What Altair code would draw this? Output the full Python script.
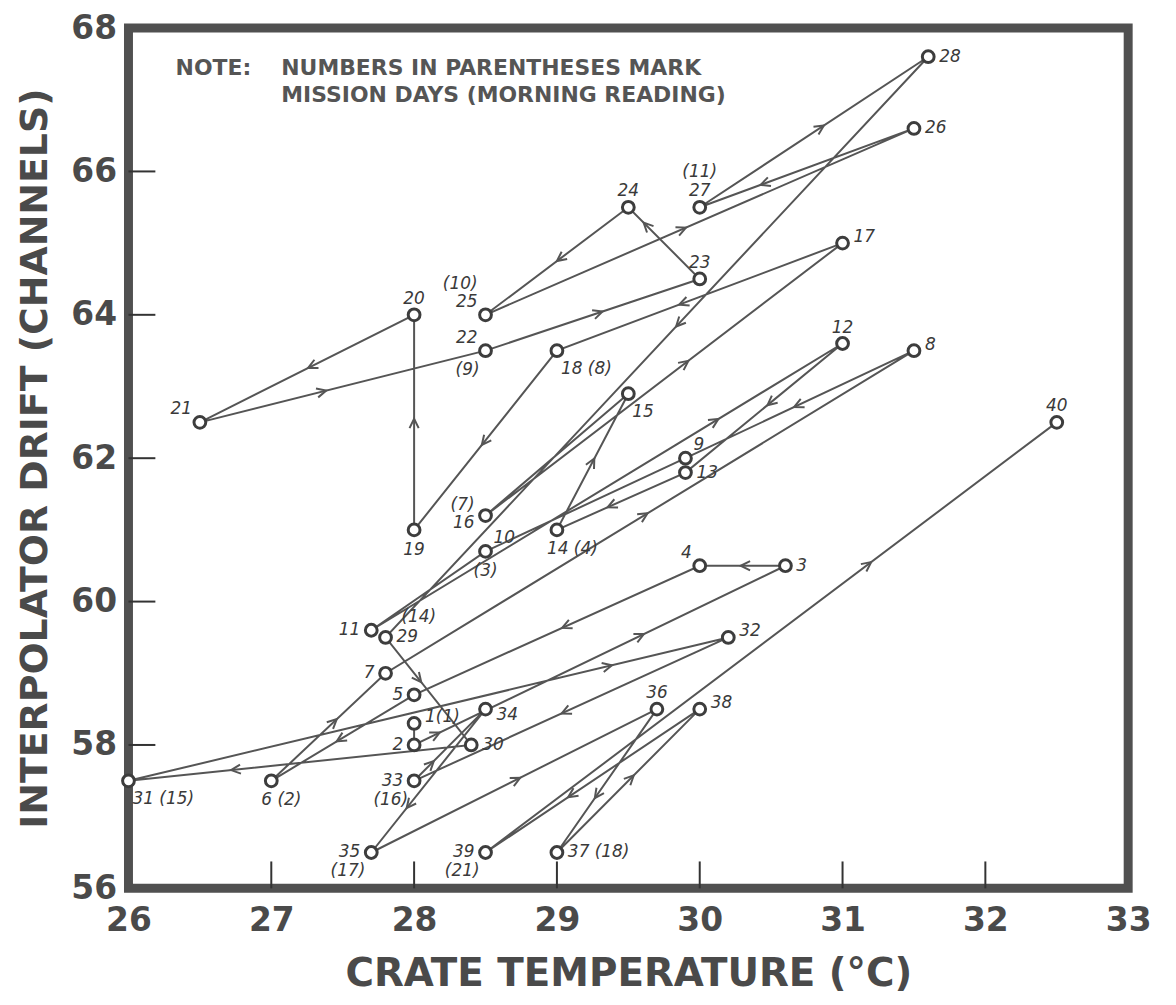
import math
import pandas as pd
import altair as alt

# ---------------- data ----------------
point_num = list(range(1, 41))
temperature = [28.0, 28.0, 30.6, 30.0, 28.0, 27.0, 27.8, 31.5, 29.9, 28.5,
               27.7, 31.0, 29.9, 29.0, 29.5, 28.5, 31.0, 29.0, 28.0, 28.0,
               26.5, 28.5, 30.0, 29.5, 28.5, 31.5, 30.0, 31.6, 27.8, 28.4,
               26.0, 30.2, 28.0, 28.5, 27.7, 29.7, 29.0, 30.0, 28.5, 32.5]
drift = [58.3, 58.0, 60.5, 60.5, 58.7, 57.5, 59.0, 63.5, 62.0, 60.7,
         59.6, 63.6, 61.8, 61.0, 62.9, 61.2, 65.0, 63.5, 61.0, 64.0,
         62.5, 63.5, 64.5, 65.5, 64.0, 66.6, 65.5, 67.6, 59.5, 58.0,
         57.5, 59.5, 57.5, 58.5, 56.5, 58.5, 56.5, 58.5, 56.5, 62.5]
mission_day = [1, None, None, None, None, 2, None, None, None, 3,
               None, None, None, 4, None, 7, None, 8, None, None,
               None, 9, None, None, 10, None, 11, None, 14, None,
               15, None, 16, None, 17, None, 18, None, 21, None]

# label placement codes (side of the point)
num_side = ["EN", "W", "E", "NW", "W", "SSE", "W", "EN", "NE", "NE",
            "W", "N", "E", "SSE", "SE", "WS", "EN", "SE", "S", "N",
            "NW", "NW", "N", "N", "NW", "E", "N", "E", "E", "E",
            "SE", "EN", "W", "ES", "W", "N", "E", "EN", "W", "N"]
day_side = ["inline", "", "", "", "", "inline", "", "", "", "S",
            "", "", "", "inline", "", "WN", "", "inline", "", "",
            "", "SW", "", "", "NNW", "", "NN", "", "NEE", "",
            "inline", "", "SW", "", "SW", "", "inline", "", "SW", ""]

# arrowheads: segment start point and fraction along the segment
arrow_from = [2, 2, 3, 4, 5, 6, 7, 8, 11, 12, 13, 14, 16, 17, 18, 19, 20, 21,
              22, 23, 24, 25, 26, 27, 28, 29, 30, 31, 32, 33, 34, 35, 36, 37,
              38, 39]
arrow_frac = [0.06, 0.61, 0.48, 0.47, 0.52, 0.55, 0.49, 0.51, 0.73, 0.46, 0.58,
              0.50, 0.56, 0.56, 0.51, 0.50, 0.48, 0.43, 0.53, 0.75, 0.48, 0.46,
              0.70, 0.53, 0.46, 0.39, 0.69, 0.80, 0.52, 0.24, 0.67, 0.51, 0.60,
              0.52, 0.60, 0.67]

x_ticks = [26, 27, 28, 29, 30, 31, 32, 33]
y_ticks = [56, 58, 60, 62, 64, 66, 68]
inner_x_ticks = [27, 28, 29, 30, 31, 32]
inner_y_ticks = [58, 60, 62, 64, 66]

x_title = "CRATE TEMPERATURE (°C)"
y_title = "INTERPOLATOR DRIFT (CHANNELS)"
note_line1a = "NOTE:"
note_line1b = "NUMBERS IN PARENTHESES MARK"
note_line2 = "MISSION DAYS (MORNING READING)"

# ---------------- layout ----------------
W, H = 1004, 864
X0, X1, Y0, Y1 = 26, 33, 56, 68
PX_X = W / (X1 - X0)
PX_Y = H / (Y1 - Y0)
INK = "#4a4a4a"
LINE = "#555555"

xs = alt.Scale(domain=[X0, X1], nice=False, zero=False)
ys = alt.Scale(domain=[Y0, Y1], nice=False, zero=False)

x_axis = alt.Axis(values=x_ticks, format="d", grid=False, ticks=False, tickSize=0,
                  domain=False, labelFontSize=33, labelFont="DejaVu Sans",
                  labelFontWeight="bold", labelColor=INK, labelPadding=16,
                  labelFlush=False, labelOverlap=False,
                  titleFontSize=39, titleFont="DejaVu Sans", titleFontWeight="bold",
                  titleColor=INK, titlePadding=18)
y_axis = alt.Axis(values=y_ticks, format="d", grid=False, ticks=False, tickSize=0,
                  domain=False, labelFontSize=33, labelFont="DejaVu Sans",
                  labelFontWeight="bold", labelColor=INK, labelPadding=12,
                  labelFlush=False, labelOverlap=False,
                  titleFontSize=38, titleFont="DejaVu Sans", titleFontWeight="bold",
                  titleColor=INK, titlePadding=16)


def X():
    return alt.X("t:Q", scale=xs, axis=x_axis, title=x_title)


def Y():
    return alt.Y("d:Q", scale=ys, axis=y_axis, title=y_title)


df = pd.DataFrame({"n": point_num, "t": temperature, "d": drift})

# arrow table
arows = []
for s, f in zip(arrow_from, arrow_frac):
    t0, d0 = temperature[s - 1], drift[s - 1]
    t1, d1 = temperature[s], drift[s]
    dxp = (t1 - t0) * PX_X
    dyp = -(d1 - d0) * PX_Y
    ang = math.degrees(math.atan2(dxp, -dyp)) % 360
    arows.append({"t": t0 + f * (t1 - t0), "d": d0 + f * (d1 - d0), "ang": ang})
adf = pd.DataFrame(arows)

# label table
POS = {
    "E": (11, 0, "left"), "EN": (11, -6, "left"), "ES": (11, 6, "left"),
    "W": (-11, 0, "right"), "WN": (-11, -11, "right"), "WS": (-11, 8, "right"),
    "N": (0, -16, "center"), "NN": (0, -35, "center"),
    "S": (0, 20, "center"),
    "NE": (8, -13, "left"), "NEE": (16, -20, "left"),
    "NW": (-8, -13, "right"), "NNW": (-8, -31, "right"),
    "SE": (4, 18, "left"), "SSE": (-10, 19, "left"), "SW": (-6, 19, "right"),
}
lrows = []
for n, t, d, md, ns, ds in zip(point_num, temperature, drift, mission_day, num_side, day_side):
    if md is not None and ds == "inline":
        txt = f"{n}({md})" if n == 1 else f"{n} ({md})"
        lrows.append({"t": t, "d": d, "txt": txt, "pos": ns})
    else:
        lrows.append({"t": t, "d": d, "txt": str(n), "pos": ns})
        if md is not None:
            lrows.append({"t": t, "d": d, "txt": f"({md})", "pos": ds})
ldf = pd.DataFrame(lrows)

# ---------------- layers ----------------
path = alt.Chart(df).mark_line(color=LINE, strokeWidth=2).encode(
    x=X(), y=Y(), order="n:Q",
)

xt = alt.Chart(pd.DataFrame({"t": inner_x_ticks})).mark_rule(color="#333", strokeWidth=2).encode(
    x=X(), y=alt.value(H), y2=alt.value(H - 27),
)
yt = alt.Chart(pd.DataFrame({"d": inner_y_ticks})).mark_rule(color="#333", strokeWidth=2).encode(
    y=Y(), x=alt.value(0), x2=alt.value(27),
)

arrows = alt.Chart(adf).mark_point(
    shape="M-0.75,0.95L0,-0.6L0.75,0.95", filled=False, stroke=LINE,
    strokeWidth=2, size=150, opacity=1,
).encode(
    x=X(), y=Y(), angle=alt.Angle("ang:Q", scale=None),
)

pts = alt.Chart(df).mark_point(
    shape="circle", filled=False, fill="white", fillOpacity=1, stroke="#3d3d3d",
    strokeWidth=3, size=140, opacity=1,
).encode(x=X(), y=Y())

label_layers = []
for code, (dx, dy, al) in POS.items():
    sub = ldf[ldf["pos"] == code]
    if len(sub) == 0:
        continue
    label_layers.append(
        alt.Chart(sub).mark_text(
            dx=dx, dy=dy, align=al, baseline="middle", font="DejaVu Sans",
            fontSize=17, fontStyle="italic", color="#3a3a3a",
        ).encode(x=X(), y=Y(), text="txt:N")
    )

note_df = pd.DataFrame({
    "t": [26.33, 27.07, 27.07],
    "d": [67.44, 67.44, 67.07],
    "txt": [note_line1a, note_line1b, note_line2],
})
note = alt.Chart(note_df).mark_text(
    align="left", baseline="middle", font="DejaVu Sans", fontSize=22,
    fontWeight="bold", color="#555555",
).encode(x=X(), y=Y(), text="txt:N")

chart = alt.layer(path, xt, yt, arrows, pts, *label_layers, note).properties(
    width=W, height=H,
    autosize=alt.AutoSizeParams(type="none"),
    padding={"left": 121, "top": 18, "right": 40, "bottom": 110},
).configure_view(stroke="#505050", strokeWidth=9)

chart.save("out.html", embed_options={"renderer": "svg", "actions": False})
